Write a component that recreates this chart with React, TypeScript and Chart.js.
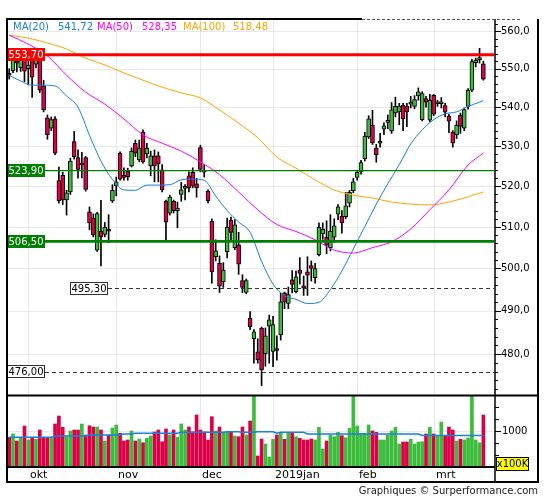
import React, { useEffect, useRef } from "react";
import { Chart, registerables } from "chart.js";

Chart.register(...registerables);

// ---- price candles (trading days from late Sep 2018 to Mar 20 2019) ----
const opens = [
  548.6, 549.5, 551.8, 550.3, 553.5, 550.0, 553.0, 551.2, 553.4, 545.5,
  537.3, 534.6, 537.0, 521.4, 522.7, 516.6, 518.6, 531.2, 527.2, 525.3,
  527.2, 513.7, 512.2, 504.4, 509.0, 508.2, 509.3, 516.4, 520.1, 528.3,
  522.4, 523.8, 525.1, 530.8, 526.6, 533.6, 528.1, 525.1, 527.6, 527.6,
  524.1, 516.3, 513.4, 516.3, 514.0, 518.0, 519.5, 522.6, 523.5, 520.6,
  529.7, 524.0, 518.8, 511.4, 502.8, 501.2, 496.8, 504.0, 511.6, 505.0,
  505.7, 497.1, 494.3, 488.3, 483.5, 480.5, 486.0, 480.1, 486.4, 480.6,
  481.0, 484.4, 494.2, 491.7, 497.3, 494.5, 499.6, 495.9, 499.2, 500.7,
  497.8, 503.3, 508.3, 507.5, 505.0, 507.5, 513.1, 512.6, 512.5, 515.8,
  518.9, 522.2, 523.6, 526.9, 532.4, 535.4, 529.6, 530.8, 534.4, 536.1,
  533.9, 538.5, 538.8, 540.5, 540.2, 540.8, 540.2, 542.9, 536.8, 542.2,
  536.7, 543.1, 540.9, 540.9, 540.4, 537.7, 533.6, 532.9, 537.9, 534.6,
  540.2, 544.4, 551.6, 552.4, 551.3,
];
const highs = [
  550.0, 554.5, 553.8, 554.6, 554.4, 553.5, 554.2, 554.6, 554.8, 547.0,
  538.0, 537.5, 537.6, 524.8, 523.5, 519.0, 527.0, 533.8, 529.1, 528.5,
  527.5, 514.9, 513.2, 513.6, 516.5, 511.1, 513.0, 520.4, 522.3, 528.6,
  524.6, 524.5, 529.6, 531.6, 531.6, 534.2, 530.8, 528.8, 529.1, 528.6,
  525.4, 516.6, 517.8, 516.6, 516.1, 521.0, 520.4, 523.6, 524.6, 522.0,
  530.3, 525.4, 519.1, 512.0, 506.9, 503.0, 501.4, 512.2, 512.4, 511.8,
  508.7, 498.5, 497.5, 489.8, 485.6, 483.5, 486.2, 486.0, 489.0, 488.7,
  484.2, 494.2, 494.4, 495.6, 499.5, 499.4, 502.6, 498.2, 502.8, 501.8,
  501.2, 511.0, 511.0, 511.5, 513.0, 512.0, 515.5, 514.0, 518.5, 519.0,
  522.0, 524.0, 526.5, 533.6, 537.8, 539.2, 530.5, 533.3, 536.0, 538.0,
  541.2, 542.6, 541.0, 541.0, 541.0, 542.8, 543.0, 545.0, 544.0, 542.8,
  543.3, 543.3, 541.8, 542.5, 541.0, 538.2, 534.0, 536.5, 538.5, 539.8,
  544.8, 552.5, 552.8, 555.4, 552.0,
];
const lows = [
  547.3, 549.0, 549.2, 549.3, 546.6, 545.8, 542.5, 550.2, 543.8, 538.8,
  531.8, 534.0, 527.9, 515.8, 515.5, 512.9, 518.0, 526.8, 522.0, 522.1,
  518.8, 509.3, 507.6, 504.1, 500.6, 507.6, 506.2, 516.0, 517.6, 521.5,
  521.5, 521.5, 524.8, 527.4, 526.1, 525.8, 527.1, 522.6, 521.1, 521.1,
  518.6, 506.9, 512.9, 513.4, 509.8, 516.3, 516.6, 518.6, 519.6, 517.3,
  523.6, 522.3, 515.9, 496.5, 501.8, 494.3, 495.5, 502.5, 506.9, 504.5,
  498.6, 494.3, 494.0, 485.6, 477.9, 477.9, 472.8, 477.2, 477.9, 477.1,
  478.6, 483.2, 490.5, 490.5, 494.2, 494.2, 496.3, 493.6, 493.6, 497.0,
  496.5, 503.0, 507.0, 503.5, 504.2, 506.3, 511.8, 508.5, 512.0, 514.9,
  518.4, 521.5, 523.0, 526.3, 532.0, 530.5, 526.0, 529.8, 533.0, 534.5,
  533.3, 537.5, 535.5, 534.0, 535.0, 539.8, 539.6, 541.8, 536.5, 540.0,
  536.3, 537.8, 540.2, 539.8, 537.5, 533.5, 529.8, 532.0, 533.3, 534.0,
  539.5, 544.0, 550.5, 551.5, 547.0,
];
const closes = [
  548.3, 553.2, 551.5, 553.4, 549.4, 551.0, 547.8, 553.3, 544.4, 539.3,
  533.0, 536.8, 528.3, 516.4, 516.6, 518.4, 526.3, 527.4, 524.2, 525.6,
  519.2, 511.0, 508.1, 513.3, 507.6, 509.9, 509.0, 519.0, 521.1, 521.8,
  522.2, 522.3, 528.8, 528.3, 529.6, 526.1, 529.6, 527.6, 525.1, 525.6,
  519.1, 511.2, 517.3, 514.0, 514.6, 519.1, 519.6, 519.6, 520.1, 519.6,
  524.2, 523.5, 516.4, 499.2, 504.2, 495.8, 499.6, 510.0, 508.7, 510.5,
  501.0, 495.5, 497.1, 486.3, 485.1, 478.7, 476.4, 484.2, 487.9, 486.8,
  480.8, 492.1, 492.1, 493.8, 496.2, 498.0, 498.8, 495.3, 498.4, 500.0,
  500.0, 509.9, 509.5, 505.6, 509.0, 510.3, 514.9, 511.0, 515.2, 518.5,
  521.1, 523.5, 525.9, 532.6, 537.0, 530.9, 527.9, 531.0, 535.2, 536.6,
  539.3, 540.2, 540.3, 537.0, 538.8, 541.0, 542.0, 544.0, 543.5, 541.3,
  541.8, 538.2, 541.1, 541.1, 538.7, 536.4, 530.8, 535.4, 535.1, 539.4,
  544.4, 551.9, 552.3, 552.6, 547.3,
];

// ---- volume (x100K) and its average ----
const volumes = [
  869, 938, 792, 860, 1104, 813, 860, 827, 1021, 860,
  860, 860, 1146, 1312, 1077, 881, 1000, 1021, 1021, 1146,
  917, 1110, 1083, 1083, 1021, 792, 910, 1062, 1125, 952,
  792, 813, 1000, 792, 833, 756, 848, 896, 979, 1021,
  777, 1042, 917, 1021, 869, 1146, 1021, 1083, 979, 1333,
  1021, 979, 813, 1298, 1000, 1083, 973, 973, 979, 896,
  881, 1083, 917, 1208, 1720, 479, 833, 729, 458, 827,
  917, 965, 827, 952, 952, 881, 848, 813, 813, 833,
  813, 1077, 625, 792, 917, 881, 973, 902, 860, 1056,
  1720, 1104, 952, 952, 1125, 1000, 973, 813, 813, 917,
  1000, 1077, 729, 771, 771, 827, 729, 771, 777, 938,
  1077, 938, 896, 1187, 896, 1083, 1021, 792, 827, 813,
  854, 1740, 813, 756, 1333,
];
const volumeAvg = [
  869, 869, 869, 869, 869, 869, 869, 869, 869, 869,
  869, 869, 896, 896, 896, 896, 896, 896, 896, 896,
  896, 917, 917, 917, 917, 917, 917, 917, 917, 917,
  938, 938, 938, 952, 952, 952, 952, 952, 952, 952,
  952, 952, 952, 952, 952, 973, 973, 973, 973, 973,
  973, 973, 973, 973, 973, 973, 973, 985, 985, 985,
  985, 973, 973, 973, 973, 985, 985, 985, 985, 985,
  952, 973, 973, 973, 973, 973, 973, 973, 938, 938,
  938, 938, 938, 938, 938, 938, 938, 938, 938, 938,
  938, 938, 938, 938, 938, 938, 938, 938, 938, 938,
  938, 938, 938, 938, 938, 938, 938, 938, 906, 906,
  906, 906, 906, 906, 906, 906, 906, 906, 906, 906,
  906, 906, 906, 906, 906,
];

// ---- moving averages: [day index, value] ----
const ma20 = [
  [0, 548.3], [3, 546.8], [6, 545.7], [9, 545.7], [12, 545.5], [15, 542.9],
  [18, 540.0], [21, 532.8], [24, 526.3], [27, 521.7], [30, 519.1], [33, 519.0],
  [36, 520.3], [39, 520.3], [42, 520.4], [45, 521.6], [48, 521.8], [51, 521.5],
  [54, 517.6], [57, 514.0], [60, 511.2], [63, 508.7], [66, 501.7], [69, 496.3],
  [72, 493.5], [75, 492.7], [78, 491.7], [81, 492.0], [84, 495.0], [87, 499.4],
  [90, 504.7], [93, 510.1], [96, 515.6], [99, 520.6], [102, 525.4], [105, 530.6],
  [108, 534.2], [111, 536.8], [114, 538.3], [117, 538.8], [120, 540.2],
  [123, 541.3], [124, 541.7],
];
const ma50 = [
  [0, 558.9], [5, 556.5], [10, 553.4], [15, 548.3], [20, 543.9], [25, 540.8],
  [30, 537.0], [35, 532.9], [40, 530.8], [45, 528.8], [50, 526.1], [55, 522.9],
  [60, 518.6], [65, 514.2], [70, 510.6], [75, 508.9], [80, 506.9], [85, 504.4],
  [90, 503.7], [95, 505.0], [100, 506.4], [105, 509.5], [110, 514.2],
  [115, 519.1], [120, 525.3], [124, 528.3],
];
const ma100 = [
  [0, 558.9], [5, 558.1], [10, 556.8], [15, 555.2], [20, 552.8], [25, 551.0],
  [30, 548.9], [35, 547.0], [40, 545.2], [45, 543.7], [50, 542.4], [55, 539.3],
  [60, 535.9], [65, 532.2], [70, 527.3], [75, 524.5], [80, 521.6], [85, 519.1],
  [90, 517.8], [95, 517.1], [100, 516.1], [105, 515.6], [110, 515.4],
  [115, 516.1], [120, 517.4], [124, 518.6],
];

// ---- axes, levels, texts ----
const monthStarts = [5, 28, 50, 69, 91, 111];
const monthLabels = ["okt", "nov", "dec", "2019jan", "feb", "mrt"];
const priceTicks = [480, 490, 500, 510, 520, 530, 540, 550, 560];
const volumeTicks = [500, 750, 1000, 1250, 1500];
const volumeLabelTick = 1000;
const levelValues = [553.7, 523.9, 506.5, 495.3, 476.0];
const levelLabels = ["553,70", "523,90", "506,50", "495,30", "476,00"];
const legendNames = ["MA(20)", "MA(50)", "MA(100)"];
const legendValues = ["541,72", "528,35", "518,48"];

const GREEN = "#3cbc3c";
const RED = "#dc0046";
const BLUE = "#1a80dc";
const MAGENTA = "#ff00ff";
const ORANGE = "#ffa500";
const LEVEL_GREEN = "#008000";
const FONT = "'DejaVu Sans', Verdana, sans-serif";

export default function App() {
  const ref = useRef<HTMLCanvasElement>(null);

  useEffect(() => {
    const canvas = ref.current;
    if (!canvas) return;

    const candleColors = opens.map((o, i) => (closes[i] >= o ? GREEN : RED));

    const L = 8, R = 494, T = 20, PB = 395.5, VB = 467, XB = 482, OR = 538, LB = 7, AX = 495;

    const line = (ctx: any, x1: number, y1: number, x2: number, y2: number) => {
      ctx.beginPath();
      ctx.moveTo(x1, y1);
      ctx.lineTo(x2, y2);
      ctx.stroke();
    };

    const plugin = {
      id: "surperf",
      beforeDraw(chart: any) {
        const ctx = chart.ctx;
        ctx.save();
        ctx.fillStyle = "#ffffff";
        ctx.fillRect(0, 0, chart.width, chart.height);
        ctx.restore();
      },
      beforeDatasetsDraw(chart: any) {
        const { ctx } = chart;
        const x = chart.scales.x, y = chart.scales.y, yv = chart.scales.yv;
        ctx.save();
        ctx.strokeStyle = "#e8e8e8";
        ctx.lineWidth = 1;
        ctx.beginPath();
        for (const p of priceTicks) {
          const py = Math.round(y.getPixelForValue(p)) + 0.5;
          ctx.moveTo(L, py); ctx.lineTo(R, py);
        }
        const vy = Math.round(yv.getPixelForValue(volumeLabelTick)) + 0.5;
        ctx.moveTo(L, vy); ctx.lineTo(R, vy);
        for (const i of monthStarts) {
          const px = Math.round(x.getPixelForValue(i)) + 0.5;
          ctx.moveTo(px, T); ctx.lineTo(px, VB);
        }
        ctx.stroke();
        ctx.restore();
      },
      afterDatasetsDraw(chart: any) {
        const { ctx } = chart;
        const x = chart.scales.x, y = chart.scales.y;
        ctx.save();
        ctx.font = "10px " + FONT;
        ctx.textBaseline = "middle";
        levelValues.forEach((v, k) => {
          const cy = y.getPixelForValue(v);
          const label = levelLabels[k];
          const tw = ctx.measureText(label).width;
          const w = Math.round(tw + 3);
          const dashed = k >= 3;
          const bx = k === 3 ? Math.round(x.getPixelForValue(16)) : LB;
          ctx.save();
          if (dashed) {
            ctx.strokeStyle = "#333";
            ctx.lineWidth = 1;
            ctx.setLineDash([4, 3]);
            const yy = Math.round(cy) + 0.5;
            line(ctx, bx + w, yy, R, yy);
          } else {
            ctx.strokeStyle = k === 0 ? "#ff0000" : LEVEL_GREEN;
            ctx.lineWidth = k === 0 ? 3 : k === 1 ? 1.3 : 2.6;
            line(ctx, bx + w, cy, R, cy);
          }
          ctx.restore();
          const by = Math.round(cy - 6.5);
          if (dashed) {
            ctx.fillStyle = "#fff";
            ctx.fillRect(bx, by, w, 13);
            ctx.strokeStyle = "#333";
            ctx.lineWidth = 1;
            ctx.strokeRect(bx + 0.5, by + 0.5, w - 1, 12);
            ctx.fillStyle = "#000";
          } else {
            ctx.fillStyle = k === 0 ? "#ff0000" : LEVEL_GREEN;
            ctx.fillRect(bx, by, w, 13);
            ctx.fillStyle = "#fff";
          }
          ctx.fillText(label, bx + 1.5, by + 7);
        });
        const legendColors = [BLUE, MAGENTA, ORANGE];
        const nameX = [13, 97, 183];
        const valX = [58, 142, 233];
        legendNames.forEach((n, k) => {
          ctx.fillStyle = legendColors[k];
          ctx.fillText(n, nameX[k], 27);
          ctx.fillText(legendValues[k], valX[k], 27);
        });
        ctx.restore();
      },
      afterDraw(chart: any) {
        const { ctx } = chart;
        const x = chart.scales.x, y = chart.scales.y, yv = chart.scales.yv;
        ctx.save();
        ctx.strokeStyle = "#000";
        ctx.lineWidth = 2;
        line(ctx, LB, 18, LB, XB + 1);
        line(ctx, LB, PB, OR, PB);
        line(ctx, LB, VB, AX, VB);
        line(ctx, LB - 1, XB, OR + 1, XB);
        line(ctx, OR, 19, OR, XB);
        line(ctx, LB - 1, 19, 362, 19);
        ctx.lineWidth = 1.5;
        line(ctx, AX, 19, AX, XB);
        ctx.save();
        ctx.strokeStyle = "#555";
        ctx.lineWidth = 1;
        ctx.setLineDash([3, 2]);
        line(ctx, 362, 19.5, 520, 19.5);
        ctx.restore();

        ctx.lineWidth = 1;
        ctx.strokeStyle = "#000";
        ctx.fillStyle = "#000";
        ctx.font = "10px " + FONT;
        ctx.textBaseline = "middle";
        ctx.textAlign = "left";
        for (let p = 472; p <= 562; p += 2) {
          const py = Math.round(y.getPixelForValue(p)) + 0.5;
          if (py < T || py > PB - 2) continue;
          const major = priceTicks.includes(p);
          line(ctx, AX, py, AX + (major ? 6 : 3), py);
        }
        for (const p of priceTicks) {
          const py = y.getPixelForValue(p);
          ctx.fillText(p.toFixed(1).replace(".", ","), AX + 6, py);
        }
        for (const v of volumeTicks) {
          const py = Math.round(yv.getPixelForValue(v)) + 0.5;
          const major = v === volumeLabelTick;
          line(ctx, AX, py, AX + (major ? 6 : 4), py);
          if (major) ctx.fillText(String(v), AX + 7, py);
        }
        ctx.fillStyle = "#ffff00";
        ctx.fillRect(AX + 1, 457, 33, 14);
        ctx.strokeRect(AX + 1.5, 457.5, 32, 13);
        ctx.fillStyle = "#000";
        ctx.textAlign = "center";
        ctx.fillText("x100K", AX + 17.5, 464.5);

        ctx.textAlign = "left";
        ctx.font = "11px " + FONT;
        monthStarts.forEach((i, k) => {
          const px = Math.round(x.getPixelForValue(i));
          ctx.fillText(monthLabels[k], px + 2, 475);
        });

        ctx.font = "10px " + FONT;
        ctx.textAlign = "right";
        ctx.fillStyle = "#222";
        ctx.fillText("Graphiques \u00a9 Surperformance.com", OR, 491);
        ctx.restore();
      },
    };

    const chart = new Chart(canvas, {
      type: "bar",
      data: {
        datasets: [
          {
            type: "line",
            data: ma20.map(([i, v]) => ({ x: i, y: v })),
            borderColor: BLUE,
            borderWidth: 1,
            pointRadius: 0,
            cubicInterpolationMode: "monotone",
            yAxisID: "y",
            order: 0,
          },
          {
            type: "line",
            data: ma50.map(([i, v]) => ({ x: i, y: v })),
            borderColor: MAGENTA,
            borderWidth: 1,
            pointRadius: 0,
            cubicInterpolationMode: "monotone",
            yAxisID: "y",
            order: 0,
          },
          {
            type: "line",
            data: ma100.map(([i, v]) => ({ x: i, y: v })),
            borderColor: ORANGE,
            borderWidth: 1,
            pointRadius: 0,
            cubicInterpolationMode: "monotone",
            yAxisID: "y",
            order: 0,
          },
          {
            type: "bar",
            data: opens.map((o, i) => ({ x: i, y: [Math.min(o, closes[i]), Math.max(o, closes[i])] })),
            backgroundColor: candleColors,
            borderColor: "#000",
            borderWidth: 1,
            borderSkipped: false,
            barThickness: 4,
            minBarLength: 2,
            grouped: false,
            yAxisID: "y",
            order: 2,
          },
          {
            type: "bar",
            data: lows.map((l, i) => ({ x: i, y: [l, highs[i]] })),
            backgroundColor: "#000",
            barThickness: 1,
            grouped: false,
            yAxisID: "y",
            order: 3,
          },
          {
            type: "bar",
            data: volumes.map((v, i) => ({ x: i, y: v })),
            backgroundColor: candleColors,
            barThickness: 3,
            grouped: false,
            yAxisID: "yv",
            order: 4,
          },
          {
            type: "line",
            data: volumeAvg.map((v, i) => ({ x: i, y: v })),
            borderColor: BLUE,
            borderWidth: 1.5,
            pointRadius: 0,
            tension: 0,
            yAxisID: "yv",
            order: 1,
          },
        ] as any,
      },
      options: {
        animation: false,
        responsive: false,
        events: [],
        layout: { padding: { left: 8, top: 20, right: 51, bottom: 33 } },
        plugins: { legend: { display: false }, tooltip: { enabled: false } },
        scales: {
          x: { type: "linear", min: -0.31, max: 126.78, display: false, bounds: "data", offset: false, grid: { offset: false } },
          y: { type: "logarithmic", min: 454.8, max: 562.95, display: false, bounds: "data" },
          yv: { type: "linear", min: 250, max: 9562.5, display: false, bounds: "data" },
        },
      } as any,
      plugins: [plugin],
    });

    return () => chart.destroy();
  }, []);

  return (
    <div style={{ position: "absolute", left: 0, top: 0, width: 545, height: 500 }}>
      <canvas ref={ref} width={545} height={500} style={{ display: "block", width: 545, height: 500 }} />
    </div>
  );
}
